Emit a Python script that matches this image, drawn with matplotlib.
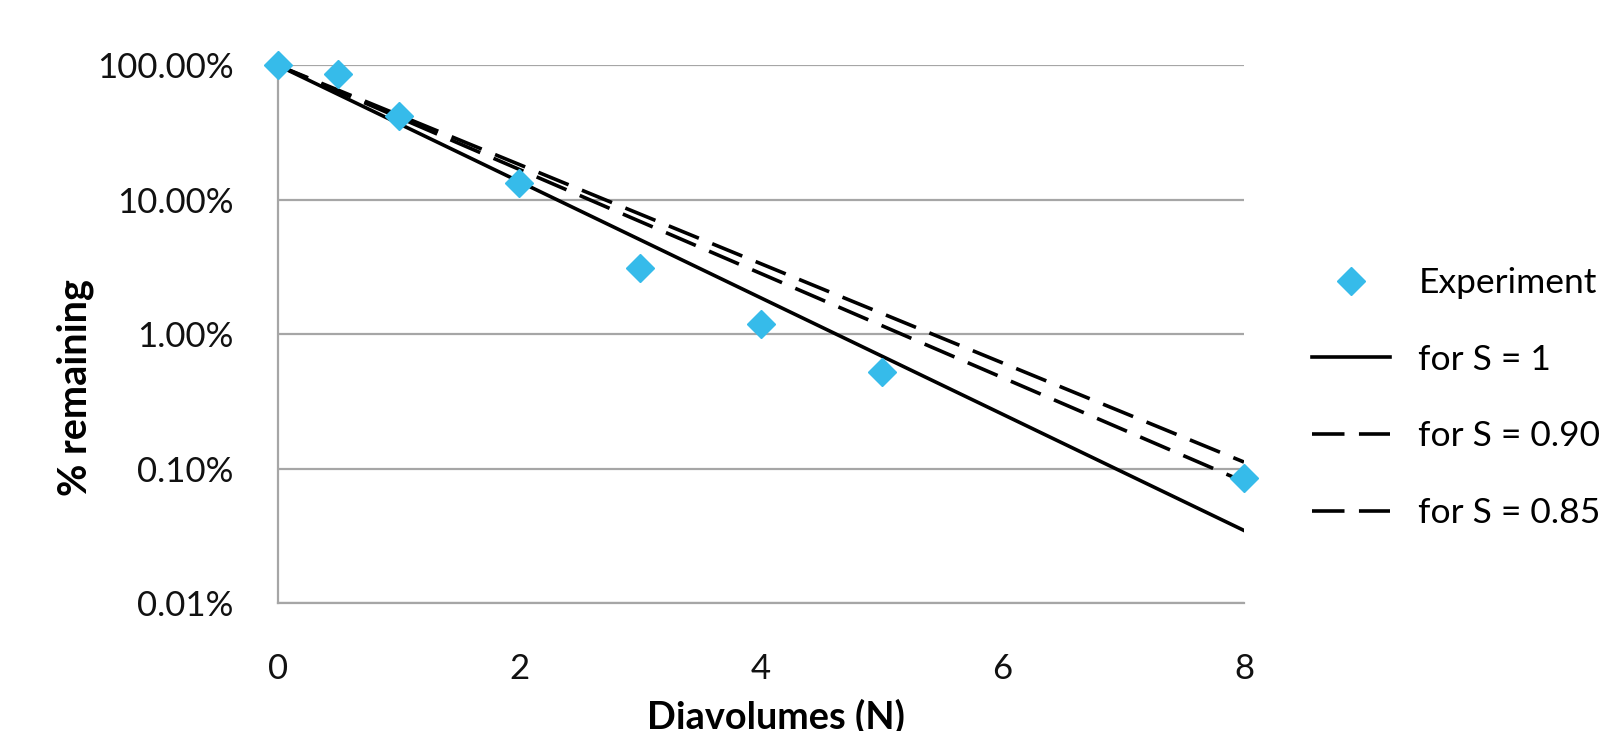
import matplotlib
matplotlib.use("Agg")
import matplotlib.pyplot as plt
from matplotlib.ticker import FuncFormatter

plt.rcParams['font.family'] = ['Lato', 'DejaVu Sans']

# experiment data (diavolumes, % remaining)
exp_n = [0, 0.5, 1, 2, 3, 4, 5, 8]
exp_pct = [100, 87, 41.7, 13.3, 3.12, 1.19, 0.524, 0.085]

# model lines: straight on log scale, read at the ends
line_n = [0, 8]
s1_pct = [100, 0.0347]
s090_pct = [100, 0.080]
s085_pct = [100, 0.112]

x_ticks = [0, 2, 4, 6, 8]
y_ticks = [0.01, 0.1, 1, 10, 100]

fig = plt.figure(figsize=(16.02, 7.31), dpi=100)
ax = fig.add_axes([0.1735, 0.175, 0.603, 0.7355])

grid_c = '#a6a6a6'
blue = '#36bbea'

ax.plot(exp_n, exp_pct, linestyle='none', marker='D', markersize=14,
        color=blue, label='Experiment', zorder=4, clip_on=False)
ax.plot(line_n, s1_pct, color='black', linewidth=2.6, label='for S = 1', zorder=3)
ax.plot(line_n, s090_pct, color='black', linewidth=2.6, dashes=(9, 4),
        label='for S = 0.90', zorder=3)
ax.plot(line_n, s085_pct, color='black', linewidth=2.6, dashes=(9, 4),
        label='for S = 0.85', zorder=3)

ax.set_yscale('log')
ax.set_ylim(0.01, 100)
ax.set_xlim(0, 8)
ax.set_xticks(x_ticks)
ax.set_yticks(y_ticks)
ax.yaxis.set_minor_locator(plt.NullLocator())
ax.yaxis.set_major_formatter(FuncFormatter(lambda v, p: f"{v:.2f}%"))
ax.tick_params(axis='both', length=0, labelsize=25, colors='#111111')
ax.tick_params(axis='y', pad=32)
ax.tick_params(axis='x', pad=36)

ax.grid(axis='y', color=grid_c, linewidth=1.6)
for side in ['top', 'right']:
    ax.spines[side].set_visible(False)
ax.spines['left'].set_color(grid_c)
ax.spines['left'].set_linewidth(1.6)
ax.spines['bottom'].set_color(grid_c)
ax.spines['bottom'].set_linewidth(1.6)

# axis titles sit where the original put them (not centred on the axes)
fig.text(75 / 1602, 1 - 388 / 731, '% remaining', rotation=90, fontsize=28.5,
         fontweight='bold', ha='center', va='center')
fig.text(776 / 1602, 1 - 729 / 731, 'Diavolumes (N)', fontsize=27.3,
         fontweight='bold', ha='center', va='baseline')

ax.legend(loc='center left', bbox_to_anchor=(0.819, 0.4555),
          bbox_transform=fig.transFigure, frameon=False, fontsize=25.5,
          handlelength=2.2, handletextpad=0.8, labelspacing=1.26,
          borderaxespad=0, borderpad=0)

fig.savefig('out.png', dpi=100)
